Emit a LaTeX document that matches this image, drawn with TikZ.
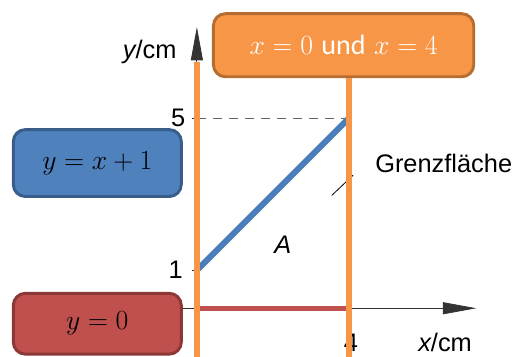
\documentclass[tikz,border=0pt]{standalone}
\usepackage{fontspec}
\setsansfont{Liberation Sans}
\newfontfamily\boxfont{Carlito}
\usetikzlibrary{arrows.meta,positioning}
\definecolor{boxorange}{HTML}{F79646}
\definecolor{boxorangeline}{HTML}{B66D31}
\definecolor{boxblue}{HTML}{4F81BD}
\definecolor{boxblueline}{HTML}{385D8A}
\definecolor{boxred}{HTML}{C0504D}
\definecolor{boxredline}{HTML}{8C3836}
\definecolor{lineblue}{HTML}{4A7EBB}

\begin{document}
\begin{tikzpicture}[>={Triangle[length=25pt,width=9pt]},
      axis line/.style={draw=black!80,line width=0.6pt},
      eq box/.style={rounded corners=9pt,line width=2.2pt,minimum width=4.42cm,
        font=\fontsize{21}{24}\selectfont},
      bound line/.style={draw=boxorange,line width=4.5pt},
      tick label/.style={font=\sffamily\fontsize{19}{22}\selectfont}]
      \useasboundingbox (-5.18,-1.26) rectangle (8.37,8.11);

      \coordinate (O) at (0,0);
      \coordinate (y1) at (0,1);
      \coordinate (y5) at (0,5);
      \coordinate (x4) at (4,0);
      \coordinate (p5) at (4,5);

      % axes
      \draw[axis line,->] (-0.4,0) -- (7.35,0);
      \draw[axis line,->] (0,-1.4) -- (0,7.4);
      \draw[axis line] (y1) -- ++(-0.12,0);
      \draw[axis line] (y5) -- ++(-0.12,0);
      \draw[draw=black!60,line width=1pt,dash pattern=on 7pt off 5pt] (y5) -- (p5);

      \node[tick label] (l1) [left=0.25cm of y1] {1};
      \node[tick label] (l5) [left=0.18cm of y5] {5};
      \node[tick label] (l4) [below=0.55cm of x4,xshift=0.05cm] {4};
      \node[tick label] (xl) at (6.53,-0.9) {\itshape x\upshape/cm};
      \node[tick label] (yl) at (-1.24,6.74) {\itshape y\upshape/cm};
      \node[tick label] (area) at (2.26,1.66) {\itshape A};
      \node[tick label,anchor=west] (grenz) at (4.57,3.82) {Grenzfläche};
      \coordinate (lead a) at (3.55,2.97);
      \coordinate (lead b) at (4.11,3.50);
      \draw[black,line width=0.6pt] (lead a) -- (lead b);

      % boundary lines
      \draw[draw=boxred,line width=4pt] (O) -- (x4);
      \draw[draw=lineblue,line width=4.5pt] (y1) -- (p5);

      % boxes
      \node[eq box,fill=boxblue,draw=boxblueline,minimum height=1.76cm] (blueeq)
        at (-2.62,3.82) {$y=x+1$};
      \node[eq box,fill=boxred,draw=boxredline,minimum height=1.6cm] (redeq)
        [below=2.47cm of blueeq] {$y=0$};
      \node[eq box,fill=boxorange,draw=boxorangeline,minimum width=6.85cm,
        minimum height=1.66cm,text=white] (orangeeq)
        at (3.86,6.92) {$x=0$ {\boxfont und} $x=4$};

      \draw[bound line] (0,-1.4) -- (0,6.47);
      \draw[bound line] (4,-1.4) -- (4,0 |- orangeeq.south);
    \end{tikzpicture}
\end{document}
